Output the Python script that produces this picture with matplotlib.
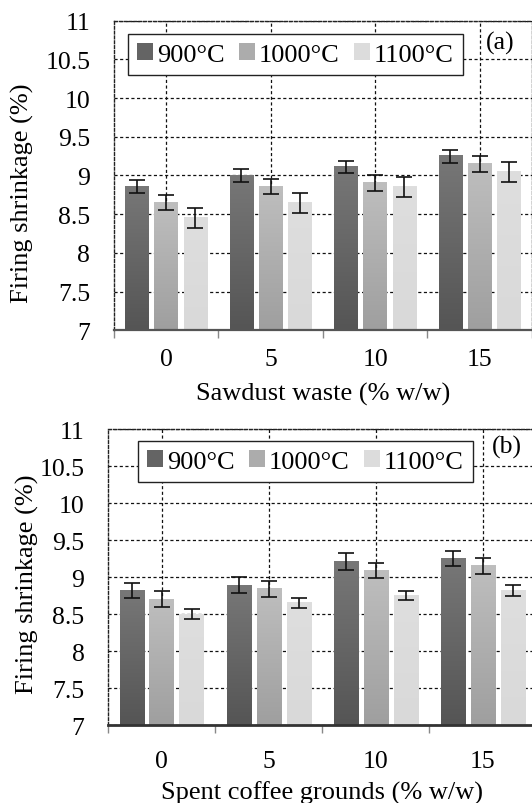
import numpy as np
import matplotlib
matplotlib.use("Agg")
import matplotlib.pyplot as plt
from matplotlib.colors import LinearSegmentedColormap
from matplotlib.patches import Patch

plt.rcParams['font.family'] = ['Liberation Serif', 'DejaVu Serif']

categories = ['0', '5', '10', '15']
series = ['900°C', '1000°C', '1100°C']

# Panel (a): sawdust waste
a_900 = [8.86, 9.00, 9.11, 9.25]
a_1000 = [8.65, 8.86, 8.90, 9.15]
a_1100 = [8.45, 8.65, 8.85, 9.05]
a_err_900 = [0.08, 0.085, 0.08, 0.085]
a_err_1000 = [0.10, 0.10, 0.105, 0.10]
a_err_1100 = [0.125, 0.13, 0.13, 0.13]

# Panel (b): spent coffee grounds
b_900 = [8.82, 8.89, 9.21, 9.25]
b_1000 = [8.70, 8.84, 9.09, 9.15]
b_1100 = [8.50, 8.65, 8.75, 8.82]
b_err_900 = [0.105, 0.11, 0.11, 0.105]
b_err_1000 = [0.105, 0.105, 0.105, 0.105]
b_err_1100 = [0.065, 0.07, 0.065, 0.07]

xlabel_a = 'Sawdust waste (% w/w)'
xlabel_b = 'Spent coffee grounds (% w/w)'
ylabel = 'Firing shrinkage (%)'
yticks = [7, 7.5, 8, 8.5, 9, 9.5, 10, 10.5, 11]
ytick_labels = ['7', '7.5', '8', '8.5', '9', '9.5', '10', '10.5', '11']

grad_colors = [('#555555', '#777777'), ('#9f9f9f', '#bebebe'), ('#d9d9d9', '#dedede')]
legend_colors = ['#646464', '#acacac', '#dcdcdc']

fig = plt.figure(figsize=(5.32, 8.04), dpi=100)


def draw_panel(ax, vals, errs, xlabel, tag, leg_anchor, tag_pos, tickpad, labelpad, ylab_xy):
    x = np.arange(len(categories))
    offsets = [-0.28, 0.0, 0.28]
    width = 0.225
    ymin = 7
    for k in range(3):
        bars = ax.bar(x + offsets[k], np.array(vals[k]) - ymin, width, bottom=ymin,
                      color='none', edgecolor='none', zorder=2)
        cmap = LinearSegmentedColormap.from_list('g%d' % k, list(grad_colors[k]))
        grad = np.linspace(0, 1, 100).reshape(-1, 1)
        for b in bars:
            bx, by = b.get_x(), b.get_y()
            ax.imshow(grad, cmap=cmap, origin='lower', aspect='auto', interpolation='bilinear',
                      extent=(bx, bx + b.get_width(), by, by + b.get_height()), zorder=2)
        ax.errorbar(x + offsets[k], vals[k], yerr=errs[k], fmt='none', ecolor='#111111',
                    elinewidth=1.2, capsize=5.5, capthick=1.2, zorder=3)
    ax.set_xlim(-0.5, 3.5)
    ax.set_ylim(7, 11)
    ax.set_xticks(x)
    ax.set_xticklabels(categories, fontsize=18.5)
    ax.set_xticks(np.arange(-0.5, 4.0, 1.0), minor=True)
    ax.tick_params(axis='x', which='major', length=0, pad=tickpad)
    ax.tick_params(axis='x', which='minor', length=6, width=1, color='#888888', direction='out')
    ax.set_yticks(yticks)
    ax.set_yticklabels(ytick_labels, fontsize=18.5)
    ax.tick_params(axis='y', length=0, pad=17)
    ax.set_axisbelow(True)
    ax.grid(True, which='major', color='#111111', linestyle=(0, (2.5, 2)), linewidth=0.9)
    for s in ['top', 'left', 'right']:
        ax.spines[s].set_linestyle((0, (2, 1.5)))
        ax.spines[s].set_color('#222222')
        ax.spines[s].set_linewidth(1)
    ax.spines['bottom'].set_color('#555555')
    ax.spines['bottom'].set_linewidth(1.6)
    ax.set_xlabel(xlabel, fontsize=19, labelpad=labelpad)
    ax.set_ylabel(ylabel, fontsize=19)
    ax.yaxis.set_label_coords(ylab_xy[0], ylab_xy[1])
    handles = [Patch(facecolor=c, edgecolor='none') for c in legend_colors]
    leg = ax.legend(handles, series, loc='upper left', bbox_to_anchor=leg_anchor, ncol=3,
                    fontsize=19, frameon=True, fancybox=False, framealpha=1,
                    edgecolor='#222222', handlelength=0.6, handleheight=0.6,
                    handletextpad=0.15, columnspacing=0.55, borderpad=0.35, borderaxespad=0)
    leg.get_frame().set_linewidth(1.0)
    leg.set_zorder(5)
    ax.text(tag_pos[0], tag_pos[1], tag, transform=ax.transAxes, fontsize=18.5,
            ha='center', va='center', zorder=6)


ax1 = fig.add_axes([0.214, 0.588, 0.786, 0.385])
draw_panel(ax1, [a_900, a_1000, a_1100], [a_err_900, a_err_1000, a_err_1100], xlabel_a, '(a)',
           (0.033, 0.958), (0.923, 0.93), 13, 8, (-0.19, 0.447))

ax2 = fig.add_axes([0.203, 0.097, 0.805, 0.368])
draw_panel(ax2, [b_900, b_1000, b_1100], [b_err_900, b_err_1000, b_err_1100], xlabel_b, '(b)',
           (0.07, 0.96), (0.932, 0.94), 18, 6, (-0.16, 0.48))
ax2.spines['bottom'].set_color('#333333')
ax2.spines['bottom'].set_linewidth(2)

fig.savefig('out.png', dpi=100)
